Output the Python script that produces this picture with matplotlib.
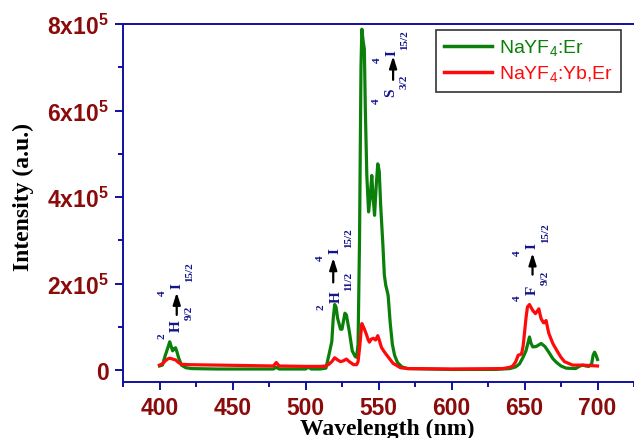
import numpy as np
import matplotlib.pyplot as plt
from matplotlib.ticker import MultipleLocator, FixedLocator

# fonts: sans bold for the ticks, sans for the legend subscripts
plt.rcParams['mathtext.fontset'] = 'custom'
plt.rcParams['mathtext.bf'] = 'Liberation Sans:bold'
plt.rcParams['mathtext.sf'] = 'Liberation Sans'

# NaYF4:Er spectrum (wavelength nm, intensity in 1e5 counts)
wl_er = np.array([400, 402, 404, 406, 407, 408, 409, 410, 411, 412, 413, 415, 418, 422,
                  440, 460, 478, 480, 482, 500, 502, 504, 510, 514, 516, 518, 519, 520,
                  521, 522, 524, 525, 527, 528, 530, 532, 534, 535, 536, 537, 538, 538.6,
                  539.5, 540.3, 541, 542, 543.2, 544.3, 545.4, 546.3, 547.3, 548.5, 549.5,
                  550.5, 551.5, 553, 554, 555, 555.8, 556.6, 558, 559.5, 561, 563, 566,
                  570, 600, 630, 640, 644, 646.6, 649, 651, 652.5, 653.4, 654.5, 655.7,
                  658, 661.4, 664, 667, 669.4, 672, 675, 678.5, 685, 688, 690, 692, 694,
                  696, 697, 698, 699, 700])
int_er = np.array([0.10, 0.12, 0.35, 0.55, 0.66, 0.55, 0.45, 0.50, 0.52, 0.42, 0.30, 0.12,
                   0.06, 0.04, 0.03, 0.03, 0.03, 0.07, 0.03, 0.03, 0.07, 0.03, 0.03, 0.05,
                   0.35, 0.66, 1.20, 1.52, 1.45, 1.20, 0.95, 0.95, 1.32, 1.28, 0.90, 0.45,
                   0.32, 0.30, 0.60, 3.00, 7.00, 7.88, 7.60, 7.42, 6.00, 4.50, 3.66, 4.00,
                   4.50, 4.00, 3.58, 4.30, 4.77, 4.60, 3.80, 2.90, 2.20, 1.96, 1.85, 1.73,
                   1.10, 0.60, 0.35, 0.18, 0.08, 0.04, 0.02, 0.02, 0.04, 0.08, 0.15, 0.30,
                   0.45, 0.65, 0.77, 0.62, 0.54, 0.55, 0.62, 0.55, 0.40, 0.27, 0.18, 0.10,
                   0.05, 0.04, 0.10, 0.12, 0.10, 0.09, 0.15, 0.35, 0.42, 0.35, 0.25])

# NaYF4:Yb,Er spectrum
wl_yb = np.array([400, 402, 404, 406, 407, 409, 411, 413, 415, 420, 440, 460, 478, 480,
                  482, 500, 510, 514, 516, 518, 520, 522, 524, 526, 528, 530, 533, 535,
                  536, 537, 538.6, 540, 541.5, 543, 543.8, 545, 546.5, 548, 549.5, 550.5,
                  552, 553.5, 555, 557.5, 560, 562, 565, 570, 600, 635, 640, 642, 644,
                  645.7, 647, 648, 649, 649.6, 651, 652, 653.4, 654.5, 655.7, 657.5, 659,
                  659.8, 661.4, 663, 663.7, 664.8, 666, 666.7, 669.4, 672.8, 675, 677.4,
                  683, 690, 695, 700])
int_yb = np.array([0.12, 0.15, 0.22, 0.27, 0.28, 0.26, 0.24, 0.18, 0.14, 0.13, 0.12, 0.11,
                   0.10, 0.18, 0.10, 0.09, 0.09, 0.10, 0.14, 0.20, 0.29, 0.24, 0.20, 0.22,
                   0.26, 0.20, 0.13, 0.13, 0.20, 0.50, 1.08, 0.98, 0.85, 0.70, 0.65, 0.72,
                   0.74, 0.70, 0.80, 0.70, 0.53, 0.45, 0.38, 0.27, 0.16, 0.12, 0.06, 0.04,
                   0.03, 0.04, 0.07, 0.10, 0.20, 0.35, 0.36, 0.38, 0.55, 0.73, 1.20, 1.46,
                   1.52, 1.45, 1.38, 1.31, 1.38, 1.42, 1.19, 1.10, 1.10, 1.15, 0.95, 0.85,
                   0.62, 0.42, 0.30, 0.20, 0.12, 0.12, 0.11, 0.10])

# transitions: excited level -> 4I15/2, letter centres in data units
low_letter = ['H', 'H', 'S', 'F']
low_sup = ['2', '2', '4', '4']
low_sub = ['9/2', '11/2', '3/2', '9/2']
low_x = [411.6, 520.8, 558.4, 655.4]
low_y = [1.04, 1.72, 6.43, 1.88]
up_letter, up_sup, up_sub = 'I', '4', '15/2'
up_x = [411.8, 520.3, 559.2, 655.2]
up_y = [1.98, 2.78, 7.36, 2.89]
arr_x = [411.8, 519.0, 560.0, 655.5]
arr_y0 = [1.28, 2.03, 6.71, 2.21]
arr_y1 = [1.80, 2.60, 7.26, 2.71]

y_ticks = [0, 2, 4, 6, 8]
y_ticklabels = ['0', r'$\mathbf{2x10^{5}}$', r'$\mathbf{4x10^{5}}$',
                r'$\mathbf{6x10^{5}}$', r'$\mathbf{8x10^{5}}$']

navy = '#14148a'
spine_col = '#1010a0'
tick_col = '#8b0a0a'
half_w = {'H': 4.3, 'S': 3.1, 'F': 3.4, 'I': 2.3}  # half letter width, points


def level(x, y, letter, sup, sub):
    # rotated term symbol built from letter, superscript and subscript
    kw = dict(xycoords='data', textcoords='offset points', rotation=90, color=navy,
              family='Liberation Serif', fontweight='bold')
    ax.annotate(letter, (x, y * 1e5), xytext=(0, 0), ha='center', va='center',
                fontsize=11, **kw)
    ax.annotate(sup, (x, y * 1e5), xytext=(-10.5, -(half_w[letter] + 0.8)), ha='center',
                va='top', fontsize=8, **kw)
    ax.annotate(sub, (x, y * 1e5), xytext=(9.5, half_w[letter]), ha='center',
                va='bottom', fontsize=8, **kw)


fig = plt.figure(figsize=(6.34, 4.39), dpi=100)
ax = fig.add_axes([123 / 634, 1 - 383 / 439, 511 / 634, 358 / 439])

ax.plot(wl_er, int_er * 1e5, color='#0a800a', lw=2.3, label=r'NaYF$_{\mathsf{4}}$:Er')
ax.plot(wl_yb, int_yb * 1e5, color='#ff0a0a', lw=2.3, label=r'NaYF$_{\mathsf{4}}$:Yb,Er')

ax.set_xlim(375, 725)
ax.set_ylim(-0.27e5, 8e5)

# axes styling
for side in ['left', 'bottom', 'top']:
    ax.spines[side].set_color(spine_col)
    ax.spines[side].set_linewidth(1.4)
ax.spines['right'].set_visible(False)

ax.xaxis.set_major_locator(MultipleLocator(50))
ax.xaxis.set_minor_locator(MultipleLocator(25))
ax.yaxis.set_major_locator(FixedLocator([v * 1e5 for v in y_ticks]))
ax.yaxis.set_minor_locator(MultipleLocator(1e5))
ax.set_yticklabels(y_ticklabels)
ax.tick_params(which='both', direction='out', color=spine_col, width=1.4,
               top=False, right=False)
ax.tick_params(which='major', length=6, labelsize=16.5, labelcolor=tick_col, pad=4)
ax.tick_params(which='minor', length=3.5)
for t in ax.get_xticklabels() + ax.get_yticklabels():
    t.set_fontweight('bold')
    t.set_family('Liberation Sans')

ax.set_xlabel('Wavelength (nm)', fontsize=17, fontweight='bold', family='Liberation Serif')
ax.set_ylabel('Intensity (a.u.)', fontsize=17, fontweight='bold', family='Liberation Serif')
ax.xaxis.set_label_coords(0.518, -0.1)
ax.yaxis.set_label_coords(-0.174, 0.52)

# transition labels with arrows
for i in range(len(low_letter)):
    level(low_x[i], low_y[i], low_letter[i], low_sup[i], low_sub[i])
    level(up_x[i], up_y[i], up_letter, up_sup, up_sub)
    ax.annotate('', xy=(arr_x[i], arr_y1[i] * 1e5), xytext=(arr_x[i], arr_y0[i] * 1e5),
                arrowprops=dict(arrowstyle='-|>,head_length=0.7,head_width=0.22',
                                color='black', lw=1.6, shrinkA=0, shrinkB=0))

leg = ax.legend(loc='upper right', bbox_to_anchor=(621 / 634, 1 - 31 / 439),
                bbox_transform=fig.transFigure, borderaxespad=0, fancybox=False,
                edgecolor='#333333', framealpha=1, handlelength=2.5, handletextpad=0.35,
                labelspacing=0.3, borderpad=0.4, prop={'family': 'Liberation Sans', 'size': 14})
leg.get_frame().set_linewidth(1.2)
for txt, line in zip(leg.get_texts(), leg.get_lines()):
    txt.set_color(line.get_color())
    line.set_linewidth(2.5)

fig.savefig('out.png', dpi=100)
